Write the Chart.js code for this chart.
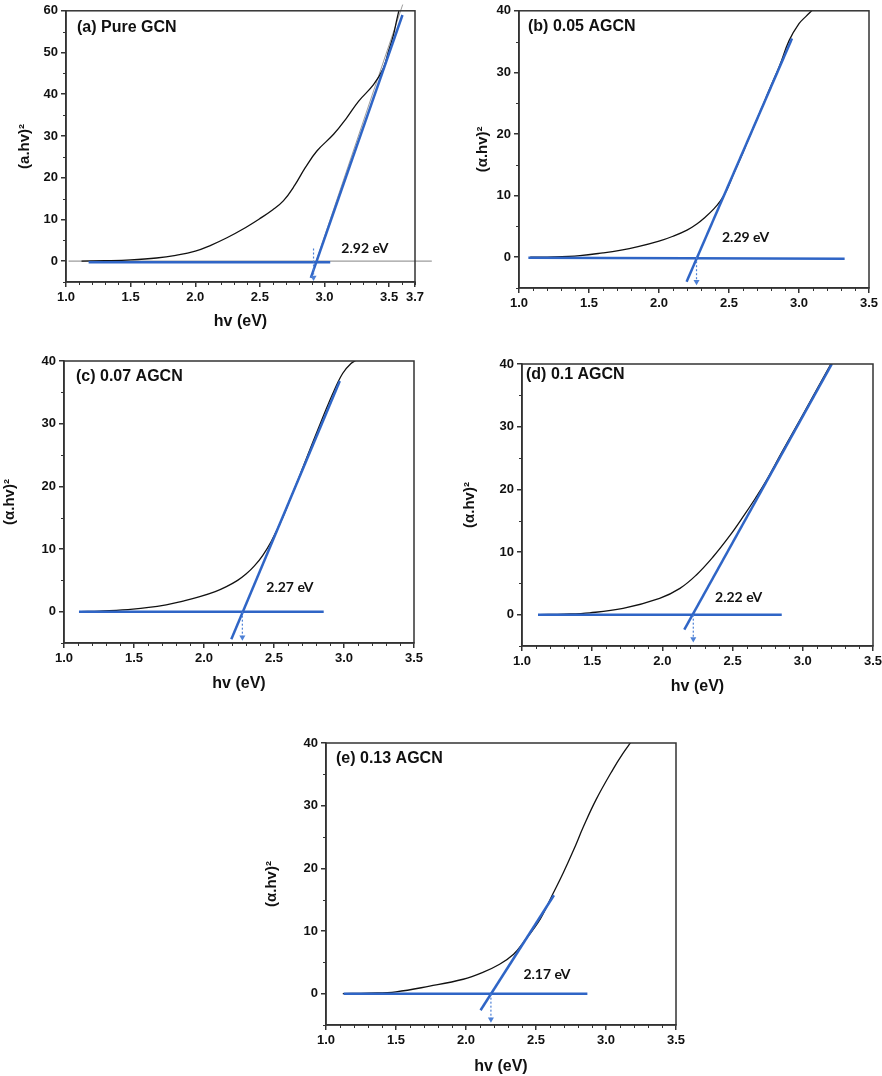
<!DOCTYPE html>
<html>
<head>
<meta charset="utf-8">
<title>Tauc plots</title>
<script src="https://cdn.jsdelivr.net/npm/chart.js@4.4.0/dist/chart.umd.min.js"></script>
<style>
  html, body { margin: 0; padding: 0; background: #fff; overflow: hidden; }
  body { position: relative; width: 882px; height: 1076px; }
  canvas { position: absolute; }
</style>
</head>
<body>
<canvas id="panelA"></canvas>
<canvas id="panelB"></canvas>
<canvas id="panelC"></canvas>
<canvas id="panelD"></canvas>
<canvas id="panelE"></canvas>
<script>
// ---- data ----
const xTicksA = [1.0, 1.5, 2.0, 2.5, 3.0, 3.5, 3.7];
const xTicks = [1.0, 1.5, 2.0, 2.5, 3.0, 3.5];
const yTicksA = [0, 10, 20, 30, 40, 50, 60];
const yTicks = [0, 10, 20, 30, 40];

// (a) Pure GCN
const aCurveX = [1.12, 1.3, 1.5, 1.7, 1.85, 2.0, 2.12, 2.245, 2.37, 2.495, 2.6, 2.683, 2.77, 2.851, 2.941, 3.07, 3.173, 3.263, 3.379, 3.456, 3.495, 3.534, 3.56, 3.59];
const aCurveY = [0, 0.1, 0.3, 0.75, 1.4, 2.4, 3.8, 5.6, 7.7, 10.1, 12.3, 14.5, 18.2, 22.4, 26.4, 30.4, 34.4, 38.3, 42.3, 46.3, 50.3, 54.3, 58.0, 62.0];
const aFitX = [2.894, 3.603];
const aFitY = [-4.0, 59.0];
const aGuideX = [2.935, 3.605];
const aGuideY = [0, 61.5];
const aBaseX = [1.175, 3.044];
const aBaseY = [-0.25, -0.25];
const aZeroX = [1.02, 3.83];
const aZeroY = [0, 0];
const aArrowY = [3.0, -3.9];
const aGap = 2.915;
const aLabel = [3.13, 3.1];

// (b) 0.05 AGCN
const bCurveX = [1.08, 1.25, 1.435, 1.6, 1.72, 1.85, 2.0, 2.1, 2.2, 2.27, 2.33, 2.39, 2.44, 2.48, 2.53, 2.6, 2.66, 2.73, 2.79, 2.86, 2.93, 3.0, 3.05, 3.1];
const bCurveY = [0, 0.05, 0.27, 0.7, 1.1, 1.7, 2.6, 3.4, 4.4, 5.4, 6.5, 7.8, 9.2, 10.7, 13.4, 17.0, 20.3, 24.0, 27.3, 31.0, 35.2, 37.9, 39.1, 40.2];
const bFitX = [2.197, 2.95];
const bFitY = [-4.0, 35.5];
const bBaseX = [1.067, 3.326];
const bBaseY = [-0.1, -0.27];
const bArrowY = [0, -4.0];
const bGap = 2.268;
const bLabel = [2.45, 3.2];

// (c) 0.07 AGCN
const cCurveX = [1.12, 1.255, 1.493, 1.73, 1.85, 1.97, 2.08, 2.16, 2.24, 2.30, 2.36, 2.42, 2.48, 2.56, 2.62, 2.68, 2.80, 2.92, 2.99, 3.05, 3.10];
const cCurveY = [0, 0.1, 0.4, 1.1, 1.7, 2.4, 3.2, 4.0, 5.0, 6.0, 7.3, 9.0, 11.2, 14.9, 18.2, 21.5, 28.3, 34.8, 38.0, 39.6, 40.3];
const cFitX = [2.195, 2.97];
const cFitY = [-4.4, 36.8];
const cBaseX = [1.107, 2.855];
const cBaseY = [0, 0];
const cArrowY = [0, -4.1];
const cGap = 2.274;
const cLabel = [2.445, 3.8];

// (d) 0.1 AGCN
const dCurveX = [1.126, 1.3, 1.483, 1.72, 1.98, 2.125, 2.24, 2.36, 2.48, 2.58, 2.66, 2.74, 2.85, 3.0, 3.2];
const dCurveY = [0, 0.08, 0.3, 1.0, 2.6, 4.2, 6.3, 9.2, 12.6, 15.8, 18.5, 21.4, 25.9, 31.9, 40.0];
const dFitX = [2.156, 3.207];
const dFitY = [-2.4, 40.0];
const dBaseX = [1.114, 2.85];
const dBaseY = [0, 0];
const dArrowY = [0, -3.9];
const dGap = 2.22;
const dLabel = [2.375, 2.8];

// (e) 0.13 AGCN
const eCurveX = [1.12, 1.3, 1.5, 1.74, 1.98, 2.12, 2.24, 2.34, 2.41, 2.53, 2.62, 2.695, 2.77, 2.84, 2.93, 3.05, 3.12, 3.18];
const eCurveY = [0, 0.1, 0.3, 1.2, 2.3, 3.4, 4.7, 6.3, 8.2, 11.9, 15.9, 19.3, 23.0, 26.7, 31.0, 35.8, 38.3, 40.2];
const eFitX = [2.104, 2.628];
const eFitY = [-2.65, 15.7];
const eBaseX = [1.126, 2.867];
const eBaseY = [0, 0];
const eArrowY = [0, -4.1];
const eGap = 2.178;
const eLabel = [2.41, 3.0];

// ---- styling ----
const BLUE = '#2f65c6';
const ARROW = '#4d80d6';
const AXIS = '#333333';
const GRAY = '#9c9c9c';
const INK = '#111111';

Chart.defaults.font.family = '"Liberation Sans", Arial, sans-serif';
Chart.defaults.color = INK;
Chart.defaults.animation = false;
Chart.defaults.devicePixelRatio = 1;
Chart.defaults.elements.point.radius = 0;
Chart.defaults.elements.line.tension = 0;

function pts(xs, ys) {
  return xs.map((x, i) => ({ x: x, y: ys[i] }));
}

// box frame + minor ticks
const frameMinor = {
  id: 'frameMinor',
  afterDraw(chart) {
    const { ctx, chartArea: a, scales: { x, y } } = chart;
    ctx.save();
    ctx.strokeStyle = AXIS;
    ctx.lineWidth = 1;
    ctx.beginPath();
    for (let i = Math.round(x.min * 10); i <= Math.round(x.max * 10); i++) {
      if (i % 5 === 0) continue;
      const px = Math.round(x.getPixelForValue(i / 10)) + 0.5;
      ctx.moveTo(px, a.bottom);
      ctx.lineTo(px, a.bottom + 3);
    }
    for (let v = Math.ceil(y.min / 5) * 5; v <= y.max; v += 5) {
      if (v % 10 === 0) continue;
      const py = Math.round(y.getPixelForValue(v)) + 0.5;
      ctx.moveTo(a.left, py);
      ctx.lineTo(a.left - 3, py);
    }
    ctx.stroke();
    ctx.lineWidth = 1.5;
    ctx.strokeRect(a.left, a.top, a.right - a.left, a.bottom - a.top);
    ctx.restore();
  }
};

const panelText = {
  id: 'panelText',
  afterDraw(chart, args, opts) {
    const { ctx, chartArea: a, scales: { x, y } } = chart;
    ctx.save();
    ctx.fillStyle = INK;
    ctx.textAlign = 'left';
    ctx.textBaseline = 'middle';
    ctx.font = 'bold 16px "Liberation Sans", Arial, sans-serif';
    ctx.fillText(opts.title, a.left + opts.dx, a.top + opts.dy);
    ctx.font = 'bold 14px Lato, "Open Sans", sans-serif';
    ctx.fillText(opts.gapText, x.getPixelForValue(opts.at[0]), y.getPixelForValue(opts.at[1]));
    ctx.restore();
  }
};

function makePanel(id, box, d) {
  const el = document.getElementById(id);
  el.width = box.w;
  el.height = box.h;
  el.style.left = box.left + 'px';
  el.style.top = box.top + 'px';

  const datasets = [
    {
      data: pts([d.gap, d.gap], d.arrowY),
      borderColor: ARROW, borderWidth: 1.2, borderDash: [2, 2],
      pointRadius: [0, 3.5], pointStyle: 'triangle', pointRotation: 180,
      pointBackgroundColor: ARROW, pointBorderColor: ARROW, pointBorderWidth: 0
    },
    { data: pts(d.fitX, d.fitY), borderColor: BLUE, borderWidth: 2.5 },
    { data: pts(d.baseX, d.baseY), borderColor: BLUE, borderWidth: 2.5 },
    { data: pts(d.curveX, d.curveY), borderColor: INK, borderWidth: 1.3, tension: 0.4 }
  ];
  if (d.guideX) datasets.push({ data: pts(d.guideX, d.guideY), borderColor: GRAY, borderWidth: 1, clip: false });
  if (d.zeroX) datasets.push({ data: pts(d.zeroX, d.zeroY), borderColor: GRAY, borderWidth: 1.2, clip: false });

  return new Chart(el.getContext('2d'), {
    type: 'line',
    data: { datasets: datasets },
    options: {
      responsive: false,
      animation: false,
      events: [],
      layout: { padding: box.pad },
      plugins: {
        legend: { display: false },
        tooltip: { enabled: false },
        panelText: { title: d.title, dx: box.tdx, dy: box.tdy, gapText: d.gapText, at: d.label }
      },
      scales: {
        x: {
          type: 'linear', min: 1.0, max: d.xMax,
          afterBuildTicks: (s) => { s.ticks = d.xTicks.map((v) => ({ value: v })); },
          afterFit: (s) => { s.height = box.xH; },
          ticks: {
            callback: (v) => Number(v).toFixed(1),
            font: { size: 13, weight: 'bold' }, color: INK, padding: 3,
            maxRotation: 0, autoSkip: false
          },
          grid: { drawOnChartArea: false, tickLength: 5, color: AXIS, lineWidth: 1.5 },
          border: { color: AXIS, width: 1.5 },
          title: { display: d.xTitle, text: 'hv (eV)', font: { size: 16, weight: 'bold' }, color: INK, padding: 0 }
        },
        y: {
          type: 'linear', min: -5, max: d.yMax,
          afterBuildTicks: (s) => { s.ticks = d.yTicks.map((v) => ({ value: v })); },
          afterFit: (s) => { s.width = box.yW; },
          ticks: { font: { size: 13, weight: 'bold' }, color: INK, padding: 3, autoSkip: false },
          grid: { drawOnChartArea: false, tickLength: 5, color: AXIS, lineWidth: 1.5 },
          border: { color: AXIS, width: 1.5 },
          title: { display: true, text: d.yTitle, font: { size: 15, weight: 'bold' }, color: INK, padding: 0 }
        }
      }
    },
    plugins: [frameMinor, panelText]
  });
}

makePanel('panelA',
  { left: 0, top: 0, w: 440, h: 340, pad: { left: 16, top: 9, right: 25, bottom: 9 }, yW: 50, xH: 49, tdx: 11, tdy: 17 },
  { title: '(a) Pure GCN', gapText: '2.92 eV', yTitle: '(a.hv)²', xTitle: true, xMax: 3.7, yMax: 60,
    xTicks: xTicksA, yTicks: yTicksA, curveX: aCurveX, curveY: aCurveY, fitX: aFitX, fitY: aFitY,
    baseX: aBaseX, baseY: aBaseY, guideX: aGuideX, guideY: aGuideY, zeroX: aZeroX, zeroY: aZeroY,
    arrowY: aArrowY, gap: aGap, label: aLabel });

makePanel('panelB',
  { left: 440, top: 0, w: 442, h: 320, pad: { left: 34, top: 7, right: 13, bottom: 2 }, yW: 45, xH: 30, tdx: 9, tdy: 16 },
  { title: '(b) 0.05 AGCN', gapText: '2.29 eV', yTitle: '(α.hv)²', xTitle: false, xMax: 3.5, yMax: 40,
    xTicks: xTicks, yTicks: yTicks, curveX: bCurveX, curveY: bCurveY, fitX: bFitX, fitY: bFitY,
    baseX: bBaseX, baseY: bBaseY, arrowY: bArrowY, gap: bGap, label: bLabel });

makePanel('panelC',
  { left: 0, top: 340, w: 440, h: 380, pad: { left: 1, top: 21, right: 26, bottom: 27 }, yW: 63, xH: 50, tdx: 12, tdy: 16 },
  { title: '(c) 0.07 AGCN', gapText: '2.27 eV', yTitle: '(α.hv)²', xTitle: true, xMax: 3.5, yMax: 40,
    xTicks: xTicks, yTicks: yTicks, curveX: cCurveX, curveY: cCurveY, fitX: cFitX, fitY: cFitY,
    baseX: cBaseX, baseY: cBaseY, arrowY: cArrowY, gap: cGap, label: cLabel });

makePanel('panelD',
  { left: 440, top: 340, w: 448, h: 380, pad: { left: 21, top: 24, right: 15, bottom: 24 }, yW: 61, xH: 50, tdx: 4, tdy: 11 },
  { title: '(d) 0.1 AGCN', gapText: '2.22 eV', yTitle: '(α.hv)²', xTitle: true, xMax: 3.5, yMax: 40,
    xTicks: xTicks, yTicks: yTicks, curveX: dCurveX, curveY: dCurveY, fitX: dFitX, fitY: dFitY,
    baseX: dBaseX, baseY: dBaseY, arrowY: dArrowY, gap: dGap, label: dLabel });

makePanel('panelE',
  { left: 230, top: 720, w: 470, h: 356, pad: { left: 33, top: 23, right: 24, bottom: 0 }, yW: 63, xH: 51, tdx: 10, tdy: 16 },
  { title: '(e) 0.13 AGCN', gapText: '2.17 eV', yTitle: '(α.hv)²', xTitle: true, xMax: 3.5, yMax: 40,
    xTicks: xTicks, yTicks: yTicks, curveX: eCurveX, curveY: eCurveY, fitX: eFitX, fitY: eFitY,
    baseX: eBaseX, baseY: eBaseY, arrowY: eArrowY, gap: eGap, label: eLabel });
</script>
</body>
</html>
